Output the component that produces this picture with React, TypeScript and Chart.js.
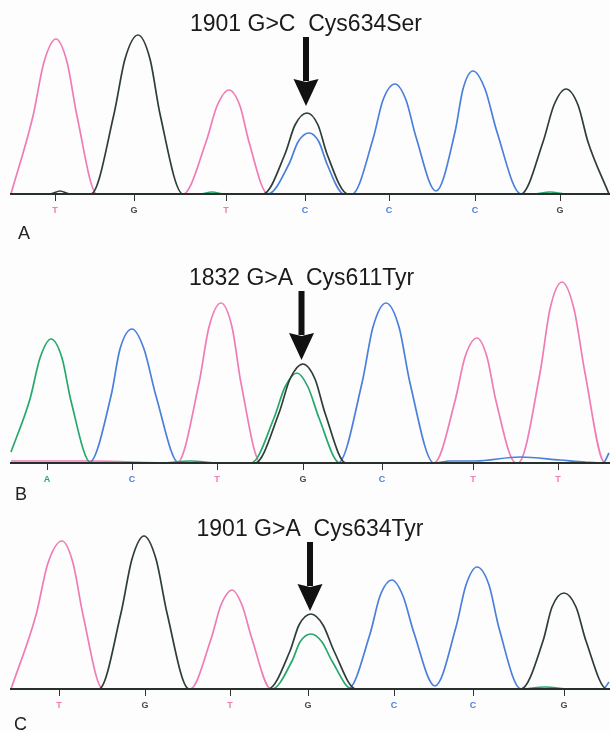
import { useEffect, useRef } from "react";
import { Chart, registerables } from "chart.js";
Chart.register(...registerables);

const PINK = "#f07cb6";
const BLACK = "#2f3d38";
const BLUE = "#4a7fdc";
const GREEN = "#27a86b";
const BASE_COLORS: Record<string, string> = { T: PINK, G: "#4a4a4a", C: BLUE, A: GREEN };

// ---------- Panel A ----------
const aTitle = "1901 G>C  Cys634Ser";
const aBases = ["T", "G", "T", "C", "C", "C", "G"];
const aBasePos = [55, 134, 226, 305, 389, 475, 560];
const aArrowPos = 306;
const aArrowTip = 88;
const aBlack = [[11,0],[50,0],[60,3],[70,0],[91,0],[114,80],[125,135],[138,159],[150,135],[160,80],[183,0],[263,0],[285,40],[295,69],[307,81],[318,69],[327,40],[348,0],[521,0],[543,52],[554,89],[566,105],[578,89],[588,52],[609,0]];
const aPink = [[11,0],[33,78],[44,132],[56,155],[67,132],[77,78],[97,0],[183,0],[206,52],[217,88],[229,104],[240,88],[249,52],[268,0],[609,0]];
const aBlue = [[11,0],[268,0],[289,30],[298,52],[309,61],[319,52],[327,30],[344,0],[352,0],[373,55],[383,94],[395,110],[406,94],[416,57],[436,3],[455,62],[463,105],[473,123],[485,105],[497,62],[521,0],[609,0]];
const aGreen = [[11,0],[200,0],[212,2],[224,0],[533,0],[550,2],[567,0],[609,0]];

// ---------- Panel B ----------
const bTitle = "1832 G>A  Cys611Tyr";
const bBases = ["A", "C", "T", "G", "C", "T", "T"];
const bBasePos = [47, 132, 217, 303, 382, 473, 558];
const bArrowPos = 301.5;
const bArrowTip = 103;
const bBlack = [[11,0],[255,0],[279,50],[290,84],[303,99],[315,84],[325,50],[346,0],[609,0]];
const bGreen = [[11,11],[30,64],[40,105],[51,124],[62,105],[71,62],[91,0],[160,0],[190,2],[220,0],[251,0],[274,45],[285,76],[297,90],[308,76],[319,45],[340,0],[609,0]];
const bBlue = [[11,0],[89,0],[111,67],[120,114],[132,134],[144,114],[156,67],[179,0],[338,0],[362,80],[373,136],[386,160],[399,136],[410,80],[434,0],[450,2],[475,2],[520,6],[560,3],[585,1],[603,0],[609,10]];
const bPink = [[11,2],[90,2],[177,0],[199,80],[209,136],[221,160],[232,136],[241,80],[261,0],[434,0],[455,62],[465,106],[477,125],[487,106],[496,62],[516,0],[518,0],[540,90],[550,154],[562,181],[574,154],[585,90],[605,0],[609,0]];

// ---------- Panel C ----------
const cTitle = "1901 G>A  Cys634Tyr";
const cBases = ["T", "G", "T", "G", "C", "C", "G"];
const cBasePos = [59, 145, 230, 308, 394, 473, 564];
const cArrowPos = 310;
const cArrowTip = 78;
const cBlack = [[11,0],[99,0],[121,76],[132,130],[144,153],[156,130],[167,76],[189,0],[268,0],[290,38],[299,64],[311,75],[323,64],[334,38],[356,0],[521,0],[543,48],[552,82],[564,96],[576,82],[586,48],[607,0],[609,0]];
const cPink = [[11,0],[36,74],[48,126],[62,148],[73,126],[83,74],[103,0],[190,0],[211,50],[221,84],[232,99],[242,84],[252,50],[271,0],[609,0]];
const cGreen = [[11,0],[272,0],[292,28],[300,47],[311,55],[322,47],[332,28],[352,0],[520,0],[545,2],[570,0],[609,0]];
const cBlue = [[11,0],[348,0],[370,55],[380,93],[392,109],[403,93],[414,56],[435,3],[456,62],[466,104],[477,122],[489,104],[499,61],[521,0],[603,0],[609,7]];

type PanelProps = {
  top: number;
  height: number;
  yMax: number;
  padBottom: number;
  letter: string;
  letterX: number;
  letterY: number;
  title: string;
  bases: string[];
  basePos: number[];
  arrowPos: number;
  arrowTip: number;
  traces: { data: number[][]; color: string }[];
};

function Panel(p: PanelProps) {
  const ref = useRef<HTMLCanvasElement | null>(null);
  useEffect(() => {
    if (!ref.current) return;
    const overlay = {
      id: "overlay",
      afterDraw(chart: any) {
        const ctx = chart.ctx;
        const xs = chart.scales.x;
        const ys = chart.scales.y;
        const px = xs.getPixelForValue(p.arrowPos);
        const tipY = ys.getPixelForValue(p.arrowTip);
        const shaftTop = tipY - 69;
        const headBase = tipY - 26;
        ctx.save();
        ctx.fillStyle = "#111";
        ctx.fillRect(px - 3, shaftTop, 6, headBase - shaftTop + 1);
        ctx.beginPath();
        ctx.moveTo(px - 12.5, headBase - 1);
        ctx.lineTo(px, headBase + 2);
        ctx.lineTo(px + 12.5, headBase - 1);
        ctx.lineTo(px, tipY);
        ctx.closePath();
        ctx.fill();
        ctx.fillStyle = "#1a1a1a";
        ctx.font = '23px "Liberation Sans", Arial, sans-serif';
        ctx.textAlign = "center";
        ctx.textBaseline = "alphabetic";
        ctx.fillText(p.title, px, shaftTop - 6);
        ctx.textAlign = "left";
        ctx.font = '18px "Liberation Sans", Arial, sans-serif';
        ctx.fillStyle = "#222";
        ctx.fillText(p.letter, p.letterX, p.letterY);
        ctx.restore();
      },
    };
    const chart = new Chart(ref.current, {
      type: "line",
      data: {
        datasets: p.traces.map((t) => ({
          data: t.data.map(([x, y]) => ({ x, y })),
          borderColor: t.color,
          borderWidth: 1.7,
          pointRadius: 0,
          fill: false,
          cubicInterpolationMode: "monotone",
          tension: 0.4,
          clip: false,
        })),
      },
      options: {
        animation: false,
        responsive: false,
        events: [],
        layout: { padding: { left: 11, right: 0, top: 20, bottom: p.padBottom } },
        plugins: { legend: { display: false }, tooltip: { enabled: false }, title: { display: false } },
        scales: {
          x: {
            type: "linear",
            min: 11,
            max: 610,
            afterBuildTicks: (s: any) => {
              s.ticks = p.basePos.map((v) => ({ value: v }));
            },
            afterFit: (s: any) => {
              s.height = 30;
            },
            grid: { display: true, drawOnChartArea: false, drawTicks: true, tickLength: 7, color: "#333", lineWidth: 1 },
            border: { display: true, color: "#27302c", width: 2, z: 1 },
            ticks: {
              autoSkip: false,
              maxRotation: 0,
              padding: 4,
              font: { size: 9, weight: "bold", family: '"Liberation Sans", Arial, sans-serif' },
              color: (ctx: any) => BASE_COLORS[p.bases[ctx.index]] || "#444",
              callback: (_v: any, i: number) => p.bases[i],
            },
          },
          y: { display: false, min: 0, max: p.yMax },
        },
      },
      plugins: [overlay],
    } as any);
    return () => chart.destroy();
  }, []);
  return (
    <div style={{ position: "absolute", left: 0, top: p.top, width: 610, height: p.height }}>
      <canvas ref={ref} width={610} height={p.height} style={{ display: "block" }} />
    </div>
  );
}

export default function App() {
  return (
    <div style={{ position: "absolute", left: 0, top: 0, width: 610, height: 732, background: "#fdfdfe", overflow: "hidden" }}>
      <Panel
        top={0} height={245} yMax={174} padBottom={21}
        letter="A" letterX={18} letterY={239}
        title={aTitle} bases={aBases} basePos={aBasePos} arrowPos={aArrowPos} arrowTip={aArrowTip}
        traces={[
          { data: aBlack, color: BLACK },
          { data: aBlue, color: BLUE },
          { data: aGreen, color: GREEN },
          { data: aPink, color: PINK },
        ]}
      />
      <Panel
        top={245} height={260} yMax={198} padBottom={12}
        letter="B" letterX={15} letterY={255}
        title={bTitle} bases={bBases} basePos={bBasePos} arrowPos={bArrowPos} arrowTip={bArrowTip}
        traces={[
          { data: bBlack, color: BLACK },
          { data: bGreen, color: GREEN },
          { data: bBlue, color: BLUE },
          { data: bPink, color: PINK },
        ]}
      />
      <Panel
        top={505} height={227} yMax={164} padBottom={13}
        letter="C" letterX={14} letterY={225}
        title={cTitle} bases={cBases} basePos={cBasePos} arrowPos={cArrowPos} arrowTip={cArrowTip}
        traces={[
          { data: cBlack, color: BLACK },
          { data: cGreen, color: GREEN },
          { data: cBlue, color: BLUE },
          { data: cPink, color: PINK },
        ]}
      />
    </div>
  );
}
